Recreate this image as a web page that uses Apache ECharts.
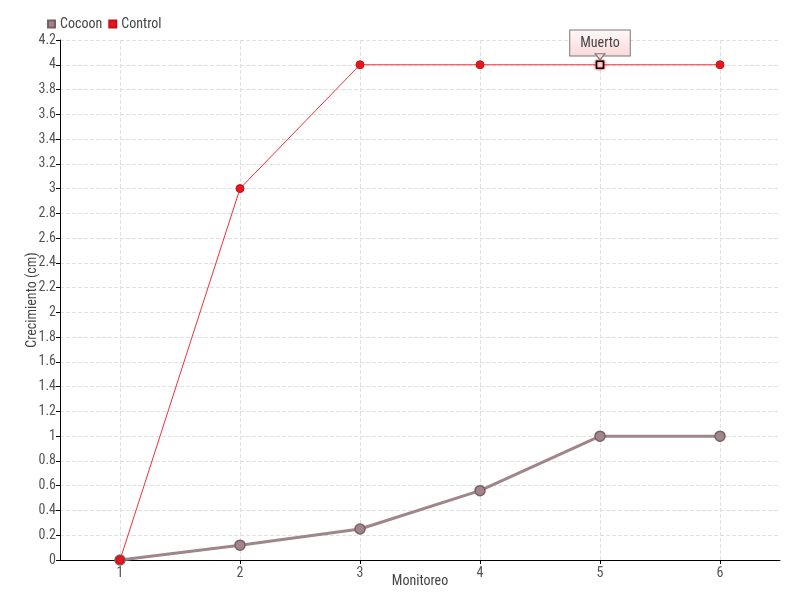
<!DOCTYPE html>
<html><head><meta charset="utf-8">
<script src="https://cdn.jsdelivr.net/npm/echarts@6/dist/echarts.min.js"></script>
<style>html,body{margin:0;padding:0;background:#fff}#c{width:800px;height:600px}</style>
</head><body><div id="c"></div>
<script>
var categories = ['1','2','3','4','5','6'];
var cocoon = [0, 0.12, 0.25, 0.56, 1, 1];
var control = [0, 3, 4, 4, 4, 4];
var yTicks = [0,0.2,0.4,0.6,0.8,1,1.2,1.4,1.6,1.8,2,2.2,2.4,2.6,2.8,3,3.2,3.4,3.6,3.8,4,4.2];
var note = {index: 4, text: 'Muerto'};

var FONT = '"Roboto Condensed","Liberation Sans Narrow",Roboto,sans-serif';
var chart = echarts.init(document.getElementById('c'));
var controlData = control.map(function(v, i){
  if (i === note.index) {
    return {value: v, symbol: 'rect', symbolSize: 7,
      itemStyle: {color: '#fff', borderColor: '#000', borderWidth: 1.5, shadowColor: '#e8161f', shadowBlur: 3},
      label: {show: true, position: 'top', distance: 5, formatter: note.text,
        color: '#444', fontFamily: FONT, fontSize: 14,
        backgroundColor: {type:'linear',x:0,y:0,x2:0,y2:1,colorStops:[{offset:0,color:'#fff8f8'},{offset:1,color:'#fbd9d9'}]},
        borderColor: '#777', borderWidth: 1, padding: [6, 10, 5, 10]}};
  }
  return v;
});
chart.setOption({
  animation: false,
  legend: {left: 42, top: 12, itemWidth: 7, itemHeight: 7, itemGap: 6,
    textStyle: {fontFamily: FONT, fontSize: 14, color: '#444'},
    data: [{name:'Cocoon', icon:'rect'}, {name:'Control', icon:'rect'}]},
  grid: {left: 60, right: 20, top: 40, bottom: 40, containLabel: false, outerBoundsMode: 'none'},
  xAxis: {type: 'category', data: categories, boundaryGap: true,
    name: 'Monitoreo', nameLocation: 'middle', nameGap: 14, nameMoveOverlap: false,
    nameTextStyle: {fontFamily: FONT, fontSize: 14, color: '#444', verticalAlign: 'top'},
    axisLine: {lineStyle: {color: '#000', width: 1}},
    axisTick: {show: true, alignWithLabel: true, length: 4, lineStyle: {color:'#000'}},
    axisLabel: {fontFamily: FONT, fontSize: 14, color: '#555', margin: 6},
    splitLine: {show: false}},
  yAxis: {type: 'value', min: 0, max: 4.2, interval: 0.2,
    name: 'Crecimiento (cm)', nameLocation: 'middle', nameGap: 21, nameRotate: 90, nameMoveOverlap: false,
    nameTextStyle: {fontFamily: FONT, fontSize: 14, color: '#444'},
    axisLine: {show: true, lineStyle: {color: '#000', width: 1}},
    axisTick: {show: true, length: 4, lineStyle: {color:'#000'}},
    axisLabel: {fontFamily: FONT, fontSize: 14, color: '#555', margin: 4,
      formatter: function(v){ var r = Math.round(v*10)/10; return yTicks.indexOf(r) >= 0 ? String(r) : ''; }},
    splitLine: {show: true, lineStyle: {type: 'dashed', color: '#e0e0e0'}}},
  series: [
    {name: 'Cocoon', type: 'line', data: cocoon, z: 2,
     symbol: 'circle', symbolSize: 10,
     lineStyle: {color: '#a0858a', width: 3},
     itemStyle: {color: '#a0858a', borderColor: '#7a6065', borderWidth: 1.5},
     markLine: {silent: true, symbol: 'none', z: 1, animation: false,
       label: {show: false},
       lineStyle: {type: 'dashed', color: '#e0e0e0', width: 1},
       emphasis: {disabled: true},
       data: categories.map(function(c){ return {xAxis: c}; })}},
    {name: 'Control', type: 'line', data: controlData, z: 3,
     symbol: 'circle', symbolSize: 8,
     lineStyle: {color: '#f0303a', width: 1},
     itemStyle: {color: '#e8161f', borderColor: '#c81018', borderWidth: 1},
     markPoint: {silent: true, animation: false,
       symbol: 'triangle', symbolRotate: 180, symbolSize: [10, 6], symbolOffset: [0, -8],
       itemStyle: {color: '#fbd9d9', borderColor: '#777', borderWidth: 1},
       label: {show: false},
       data: [{coord: [categories[note.index], control[note.index]]}]}}
  ]
});
</script></body></html>
